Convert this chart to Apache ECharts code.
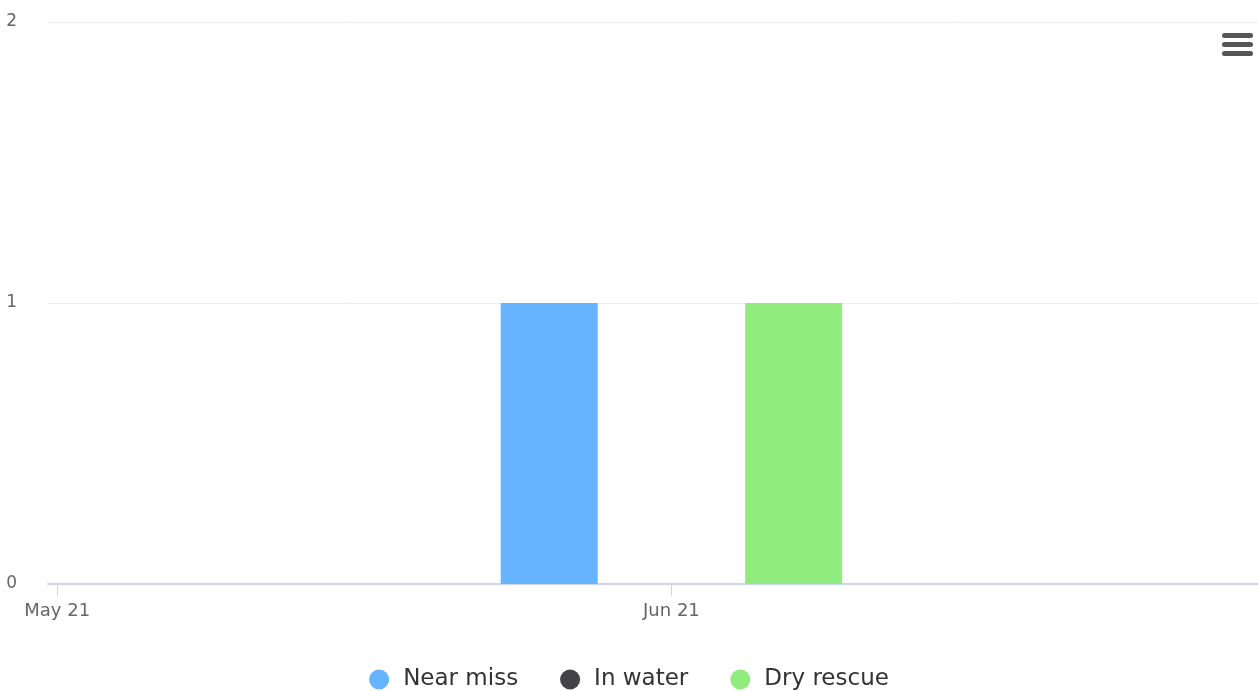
<!DOCTYPE html>
<html>
<head>
<meta charset="utf-8">
<script src="https://cdn.jsdelivr.net/npm/echarts@6/dist/echarts.min.js"></script>
<style>
  html, body { margin: 0; padding: 0; background: #fff; }
  #chart { width: 1258px; height: 691px; }
</style>
</head>
<body>
<div id="chart"></div>
<script>
var months = ['May 21', 'Jun 21']
var near_miss = [0, 1]
var in_water = [0, 0]
var dry_rescue = [0, 1]

var chartDom = document.getElementById('chart')
var myChart = echarts.init(chartDom)

var font = 'DejaVu Sans'
var month_ticks = months.map(function (m, i) { return i })

function bar_series(name, data, color) {
    return {
        name: name,
        type: 'bar',
        data: data.map(function (v, i) { return [i, v] }),
        barWidth: 97,
        barGap: '26%',
        itemStyle: { color: color },
        emphasis: { disabled: true }
    }
}

let options = {
    animation: false,
    textStyle: { fontFamily: font },
    grid: {
        left: 48,
        right: 0,
        top: 22,
        bottom: 107
    },
    legend: {
        top: 663,
        left: 'center',
        icon: 'circle',
        itemWidth: 20,
        itemHeight: 20,
        itemGap: 42,
        textStyle: {
            fontFamily: font,
            fontSize: 23,
            color: '#333',
            padding: [0, 0, 0, 9]
        },
        data: ['Near miss', 'In water', 'Dry rescue']
    },
    xAxis: {
        type: 'value',
        min: -0.015,
        max: 1.955,
        axisLine: { onZero: false, lineStyle: { color: '#ccd6eb', width: 2 } },
        axisTick: { length: 12, customValues: month_ticks, lineStyle: { color: '#ccd6eb' } },
        axisLabel: {
            margin: 18,
            fontSize: 18,
            color: '#666',
            fontFamily: font,
            customValues: month_ticks,
            formatter: function (v) { return months[Math.round(v)] || '' }
        },
        splitLine: { show: false }
    },
    yAxis: {
        type: 'value',
        min: 0,
        max: 2,
        interval: 1,
        axisLine: { show: false },
        axisTick: { show: false },
        axisLabel: {
            margin: 31,
            fontSize: 17,
            color: '#666',
            fontFamily: font
        },
        splitLine: { lineStyle: { color: '#ececec' } }
    },
    graphic: [
        {
            type: 'group',
            right: 5,
            top: 33,
            children: [
                { type: 'rect', shape: { x: 0, y: 0, width: 31, height: 5, r: 2.5 }, style: { fill: '#555' } },
                { type: 'rect', shape: { x: 0, y: 9, width: 31, height: 5, r: 2.5 }, style: { fill: '#555' } },
                { type: 'rect', shape: { x: 0, y: 18, width: 31, height: 5, r: 2.5 }, style: { fill: '#555' } }
            ]
        }
    ],
    series: [
        bar_series('Near miss', near_miss, '#66b3ff'),
        bar_series('In water', in_water, '#434348'),
        bar_series('Dry rescue', dry_rescue, '#90ed7d')
    ]
}
myChart.setOption(options)
</script>
</body>
</html>
